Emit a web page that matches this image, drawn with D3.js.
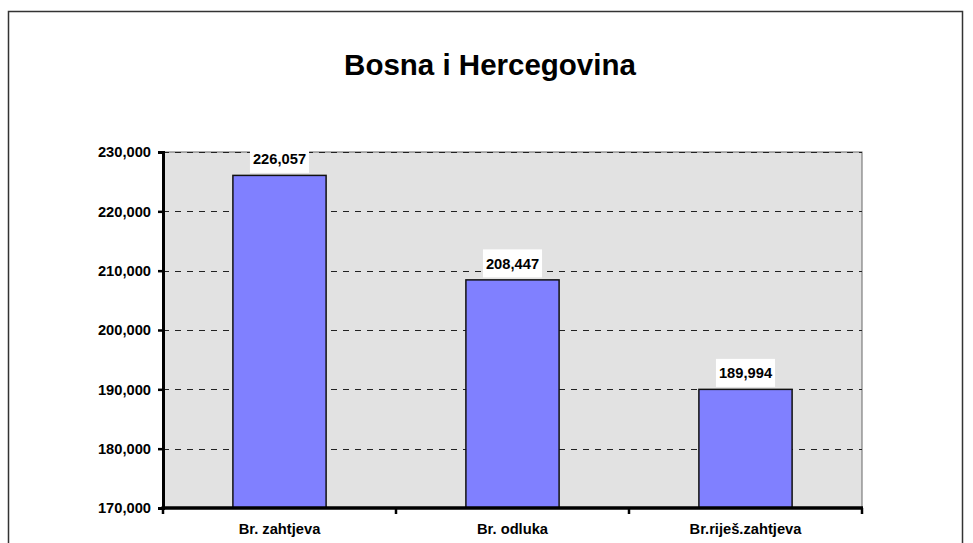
<!DOCTYPE html>
<html>
<head>
<meta charset="utf-8">
<script src="https://cdn.jsdelivr.net/npm/d3@7"></script>
<style>
  html, body { margin: 0; padding: 0; background: #fff; }
  svg { display: block; font-family: "Liberation Sans", Arial, sans-serif; }
</style>
</head>
<body>
<div id="chart"></div>
<script>
// chart data
var title = 'Bosna i Hercegovina';
var categories = ['Br. zahtjeva', 'Br. odluka', 'Br.riješ.zahtjeva'];
var values = [226057, 208447, 189994];
var yTicks = [170000, 180000, 190000, 200000, 210000, 220000, 230000];

var width = 973, height = 543;
var plot = { left: 163, right: 862, top: 152, bottom: 508 };
var fontSize = 14.7;

var svg = d3.select('#chart').append('svg')
    .attr('width', width)
    .attr('height', height);

// outer frame (bottom edge runs off the picture)
svg.append('rect')
    .attr('x', 8.5).attr('y', 11.5)
    .attr('width', 954).attr('height', 560)
    .attr('fill', '#fff')
    .attr('stroke', '#333')
    .attr('stroke-width', 1.5);

svg.append('text')
    .attr('x', 490).attr('y', 75)
    .attr('text-anchor', 'middle')
    .style('font-size', '29.5px')
    .style('font-weight', '700')
    .text(title);

var x = d3.scaleBand()
    .domain(categories)
    .range([plot.left, plot.right])
    .paddingInner(0.6)
    .paddingOuter(0.3);

var y = d3.scaleLinear()
    .domain([170000, 230000])
    .range([plot.bottom, plot.top]);

// plot background
svg.append('rect')
    .attr('x', plot.left).attr('y', plot.top)
    .attr('width', plot.right - plot.left)
    .attr('height', plot.bottom - plot.top)
    .attr('fill', '#e2e2e2')
    .attr('stroke', '#666')
    .attr('stroke-width', 1);

// dashed gridlines
svg.append('g')
    .selectAll('line')
    .data(yTicks.slice(1))
    .join('line')
    .attr('x1', plot.left).attr('x2', plot.right)
    .attr('y1', function (d) { return Math.round(y(d)) + 0.5; })
    .attr('y2', function (d) { return Math.round(y(d)) + 0.5; })
    .attr('stroke', '#222')
    .attr('stroke-width', 1)
    .attr('stroke-dasharray', '6,6');

// bars
svg.append('g')
    .selectAll('rect')
    .data(values)
    .join('rect')
    .attr('x', function (d, i) { return x(categories[i]); })
    .attr('y', function (d) { return y(d); })
    .attr('width', x.bandwidth())
    .attr('height', function (d) { return plot.bottom - y(d); })
    .attr('fill', '#8080ff')
    .attr('stroke', '#111')
    .attr('stroke-width', 1.5);

// value labels with white boxes
var fmt = d3.format(',');
var labels = svg.append('g')
    .selectAll('g')
    .data(values)
    .join('g')
    .attr('transform', function (d, i) {
        return 'translate(' + (x(categories[i]) + x.bandwidth() / 2) + ',' + y(d) + ')';
    });

labels.append('rect').attr('fill', '#fff');
labels.append('text')
    .attr('text-anchor', 'middle')
    .attr('y', -11)
    .style('font-size', fontSize + 'px')
    .style('font-weight', '700')
    .text(function (d) { return fmt(d); });

labels.each(function () {
    var g = d3.select(this);
    var w = g.select('text').node().getComputedTextLength();
    g.select('rect')
        .attr('x', -w / 2 - 3)
        .attr('y', -30.5)
        .attr('width', w + 6)
        .attr('height', 28);
});

// y axis
var yAxis = svg.append('g')
    .attr('transform', 'translate(' + plot.left + ',0)')
    .call(d3.axisLeft(y).tickValues(yTicks).tickFormat(fmt).tickSize(5).tickPadding(7));
yAxis.select('.domain').attr('stroke', '#000').attr('stroke-width', 3);
yAxis.selectAll('.tick line').attr('stroke', '#000').attr('stroke-width', 2.5);
yAxis.selectAll('.tick text')
    .attr('fill', '#000')
    .style('font-family', '"Liberation Sans", Arial, sans-serif')
    .style('font-size', fontSize + 'px')
    .style('font-weight', '700');

// x axis: ticks sit between categories
var bounds = [plot.left].concat(categories.map(function (c) { return x(c) + x.bandwidth() / 2 + x.step() / 2; }));
var xg = svg.append('g');
xg.append('line')
    .attr('x1', plot.left - 1.5).attr('x2', plot.right + 1)
    .attr('y1', plot.bottom).attr('y2', plot.bottom)
    .attr('stroke', '#000').attr('stroke-width', 3.5);
xg.selectAll('.xtick')
    .data(bounds)
    .join('line')
    .attr('class', 'xtick')
    .attr('x1', function (d) { return d; }).attr('x2', function (d) { return d; })
    .attr('y1', plot.bottom).attr('y2', plot.bottom + 6)
    .attr('stroke', '#000').attr('stroke-width', 2.5);
xg.selectAll('text')
    .data(categories)
    .join('text')
    .attr('x', function (d) { return x(d) + x.bandwidth() / 2; })
    .attr('y', 534)
    .attr('text-anchor', 'middle')
    .style('font-size', fontSize + 'px')
    .style('font-weight', '700')
    .text(function (d) { return d; });
</script>
</body>
</html>
